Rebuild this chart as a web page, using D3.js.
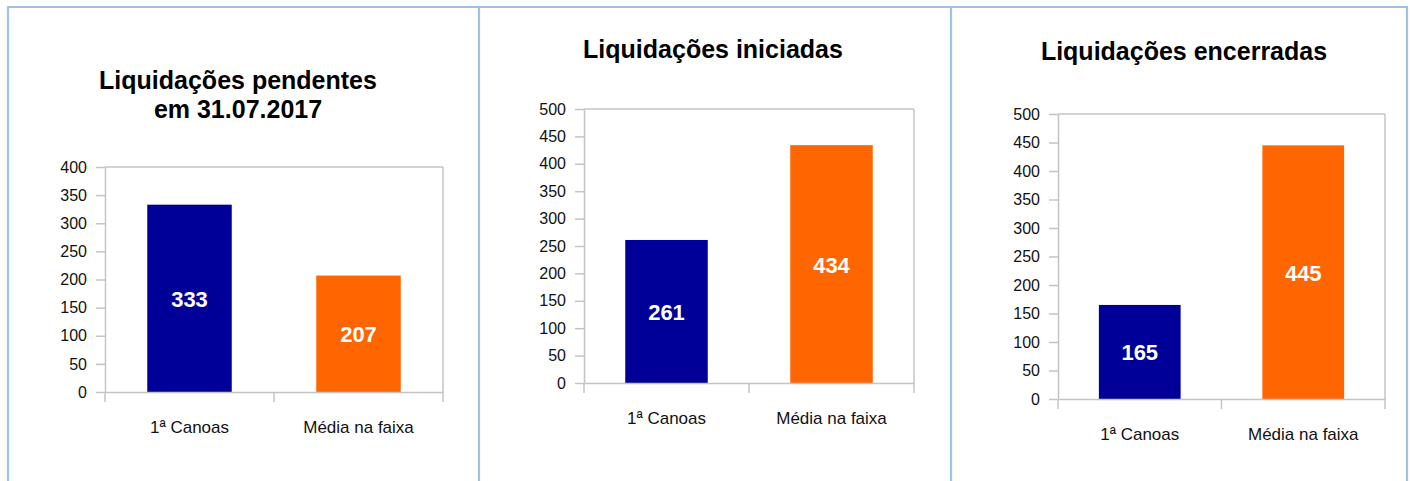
<!DOCTYPE html>
<html>
<head>
<meta charset="utf-8">
<script src="https://cdn.jsdelivr.net/npm/d3@7"></script>
<style>
  body { margin: 0; background: #fff; }
  svg { display: block; font-family: "Liberation Sans", Arial, Helvetica, sans-serif; }
  .tick-label { font-size: 16px; fill: #111; }
  .cat-label { font-size: 17px; fill: #111; }
  .title { font-size: 25px; font-weight: bold; fill: #000; }
  .value { font-size: 22px; font-weight: bold; fill: #fff; }
</style>
</head>
<body>
<div id="chart"></div>
<script>
// data
const categories = ["1ª Canoas", "Média na faixa"];
const pendentes = [333, 207];
const iniciadas = [261, 434];
const encerradas = [165, 445];
const titles = [["Liquidações pendentes", "em 31.07.2017"], ["Liquidações iniciadas"], ["Liquidações encerradas"]];
const yMax = [400, 500, 500];
const barColors = ["#000099", "#ff6600"];

const W = 1410, H = 481;
const svg = d3.select("#chart").append("svg").attr("width", W).attr("height", H);

// frame of the three panels
const frameColor = "#9ec3e6";
svg.append("line").attr("x1", 7).attr("x2", 1408).attr("y1", 7).attr("y2", 7)
    .attr("stroke", frameColor).attr("stroke-width", 2.2);
[8, 479, 951, 1407].forEach(function(x){
    svg.append("line").attr("x1", x).attr("x2", x).attr("y1", 6).attr("y2", H)
	.attr("stroke", frameColor).attr("stroke-width", 2.2);
});

// plot boxes per panel: left, right, top, bottom, title x, title baseline
const panels = [
    {values: pendentes, left: 105, right: 443, top: 167, bottom: 392, tx: 238, ty: 89},
    {values: iniciadas, left: 584, right: 914, top: 109, bottom: 383, tx: 713, ty: 58},
    {values: encerradas, left: 1058, right: 1385, top: 114, bottom: 399, tx: 1184, ty: 60}
];

panels.forEach(function(p, i){
    const g = svg.append("g");
    const axisColor = "#c4c4c4";

    const x = d3.scaleBand().domain(categories).range([p.left, p.right]).paddingInner(0.5).paddingOuter(0.25);
    const y = d3.scaleLinear().domain([0, yMax[i]]).range([p.bottom, p.top]);

    // title
    const t = g.append("text").attr("class", "title").attr("text-anchor", "middle")
	.attr("x", p.tx).attr("y", p.ty);
    titles[i].forEach(function(line, k){
	t.append("tspan").attr("x", p.tx).attr("dy", k === 0 ? 0 : 28.5).text(line);
    });

    // plot frame (top and right)
    g.append("line").attr("x1", p.left).attr("x2", p.right).attr("y1", p.top).attr("y2", p.top)
	.attr("stroke", axisColor).attr("stroke-width", 1.5);
    g.append("line").attr("x1", p.right).attr("x2", p.right).attr("y1", p.top).attr("y2", p.bottom)
	.attr("stroke", axisColor).attr("stroke-width", 1.5);

    // bars
    g.selectAll("rect.bar").data(p.values).enter().append("rect")
	.attr("class", "bar")
	.attr("x", (d, j) => x(categories[j]))
	.attr("width", x.bandwidth())
	.attr("y", d => y(d))
	.attr("height", d => y(0) - y(d))
	.attr("fill", (d, j) => barColors[j]);

    g.selectAll("text.value").data(p.values).enter().append("text")
	.attr("class", "value")
	.attr("text-anchor", "middle")
	.attr("dominant-baseline", "central")
	.attr("x", (d, j) => x(categories[j]) + x.bandwidth() / 2)
	.attr("y", d => (y(d) + y(0)) / 2 + 1)
	.text(d => d);

    // y axis
    const yAxis = g.append("g").attr("transform", `translate(${p.left},0)`)
	.call(d3.axisLeft(y).ticks(yMax[i] / 50).tickSize(9).tickPadding(9).tickSizeOuter(0));
    yAxis.select(".domain").attr("stroke", axisColor).attr("stroke-width", 1.5);
    yAxis.selectAll(".tick line").attr("stroke", axisColor).attr("stroke-width", 1.5);
    yAxis.selectAll(".tick text").attr("class", "tick-label").attr("font-size", null)
	.attr("font-family", null).attr("fill", null);

    // x axis
    const xAxis = g.append("g").attr("transform", `translate(0,${p.bottom})`)
	.call(d3.axisBottom(x).tickSize(0).tickPadding(29).tickSizeOuter(0));
    xAxis.select(".domain").attr("stroke", axisColor).attr("stroke-width", 1.5);
    xAxis.selectAll(".tick text").attr("class", "cat-label").attr("font-size", null)
	.attr("font-family", null).attr("fill", null);
    // category separators
    [p.left, (p.left + p.right) / 2, p.right].forEach(function(xx){
	g.append("line").attr("x1", xx).attr("x2", xx).attr("y1", p.bottom).attr("y2", p.bottom + 10)
	    .attr("stroke", axisColor).attr("stroke-width", 1.5);
    });
});
</script>
</body>
</html>
